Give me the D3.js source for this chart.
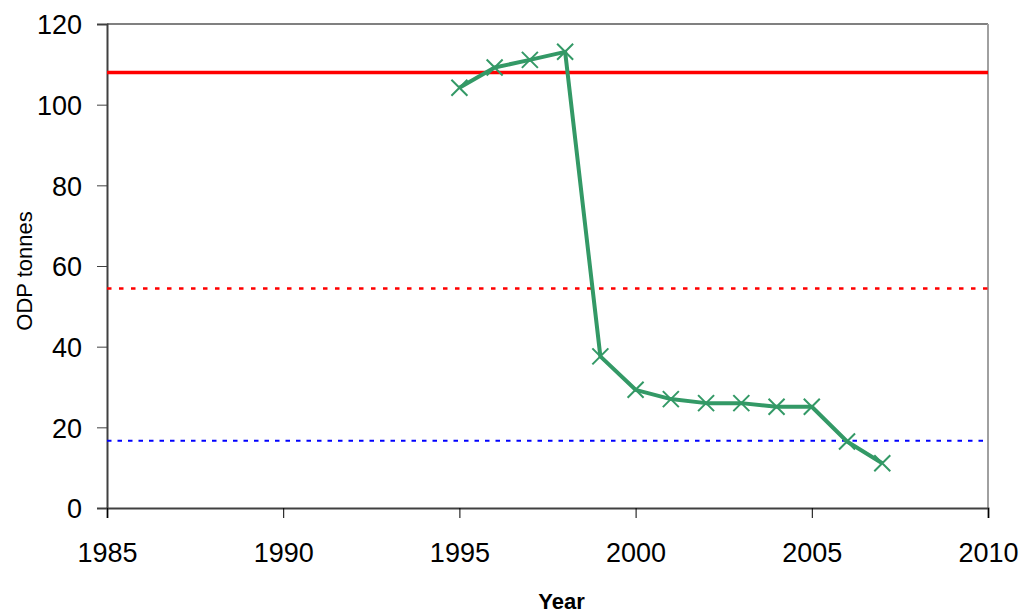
<!DOCTYPE html>
<html>
<head>
<meta charset="utf-8">
<script src="https://cdn.jsdelivr.net/npm/d3@7"></script>
<style>
  body { margin: 0; background: #fff; }
  svg text { font-family: "Liberation Sans", Arial, sans-serif; }
</style>
</head>
<body>
<div id="chart"></div>
<script>
let years = [1995, 1996, 1997, 1998, 1999, 2000, 2001, 2002, 2003, 2004, 2005, 2006, 2007];
let consumption = [104.2, 109.2, 111.1, 113.1, 37.6, 29.3, 27.0, 26.0, 26.0, 25.1, 25.1, 16.5, 11.1];
let baseline = 108;
let halfBaseline = 54.4;
let limit2007 = 16.7;
let xTicks = [1985, 1990, 1995, 2000, 2005, 2010];
let yTicks = [0, 20, 40, 60, 80, 100, 120];

let margin = {top: 24, right: 36, bottom: 105, left: 107};
let width = 1024 - margin.left - margin.right,
    height = 613 - margin.top - margin.bottom;

let svg = d3.select("#chart").append("svg")
    .attr("width", 1024)
    .attr("height", 613)
    .append("g")
    .attr("transform", "translate(" + margin.left + "," + margin.top + ")");

let x = d3.scaleLinear().domain([1985, 2010]).range([0, width]);
let y = d3.scaleLinear().domain([0, 120]).range([height, 0]);

// plot frame (top and right)
svg.append("line")
    .attr("x1", 0).attr("x2", width).attr("y1", 0).attr("y2", 0)
    .style("stroke", "#808080").style("stroke-width", 2);
svg.append("line")
    .attr("x1", width).attr("x2", width).attr("y1", 0).attr("y2", height)
    .style("stroke", "#a0a0a0").style("stroke-width", 2);

// axes
let yAxis = svg.append("g")
    .call(d3.axisLeft(y).tickValues(yTicks).tickSize(10).tickPadding(15));
yAxis.select(".domain").style("stroke", "#404040").style("stroke-width", 2);
yAxis.selectAll(".tick line").style("stroke", "#404040");
yAxis.selectAll("text").style("font-size", "27px").style("fill", "#000")
    .attr("dy", ".36em");

let xAxis = svg.append("g")
    .attr("transform", "translate(0," + height + ")")
    .call(d3.axisBottom(x).tickValues(xTicks).tickFormat(d3.format("d")).tickSize(10).tickPadding(25));
xAxis.select(".domain").style("stroke", "#404040").style("stroke-width", 2);
xAxis.selectAll(".tick line").style("stroke", "#000");
xAxis.selectAll("text").style("font-size", "27px").style("fill", "#000");

// reference lines
svg.append("line")
    .attr("x1", 0).attr("x2", width)
    .attr("y1", y(baseline)).attr("y2", y(baseline))
    .style("stroke", "#ff0000").style("stroke-width", 3.5);
svg.append("line")
    .attr("x1", 0).attr("x2", width)
    .attr("y1", y(halfBaseline)).attr("y2", y(halfBaseline))
    .style("stroke", "#ff0000").style("stroke-width", 2.5)
    .style("stroke-dasharray", "4.5,7.5");
svg.append("line")
    .attr("x1", 0).attr("x2", width)
    .attr("y1", y(limit2007)).attr("y2", y(limit2007))
    .style("stroke", "#0000ff").style("stroke-width", 2)
    .style("stroke-dasharray", "4.5,6");

// consumption series
let series = years.map(function(d, i) { return {year: d, value: consumption[i]}; });
let green = "#339966";

svg.append("path")
    .datum(series)
    .attr("d", d3.line().x(function(d) { return x(d.year); }).y(function(d) { return y(d.value); }))
    .style("fill", "none")
    .style("stroke", green)
    .style("stroke-width", 4)
    .style("stroke-linejoin", "round");

svg.selectAll(".marker")
    .data(series)
    .enter().append("path")
    .attr("class", "marker")
    .attr("transform", function(d) { return "translate(" + x(d.year) + "," + y(d.value) + ")"; })
    .attr("d", "M-8,-8L8,8M-8,8L8,-8")
    .style("stroke", green)
    .style("stroke-width", 2);

// axis titles
svg.append("text")
    .attr("x", width / 2 + 14)
    .attr("y", height + 101)
    .attr("text-anchor", "middle")
    .style("font-size", "22px")
    .style("font-weight", "bold")
    .text("Year");

svg.append("text")
    .attr("transform", "translate(" + (-75) + "," + 247 + ") rotate(-90)")
    .attr("text-anchor", "middle")
    .style("font-size", "22px")
    .text("ODP tonnes");
</script>
</body>
</html>
